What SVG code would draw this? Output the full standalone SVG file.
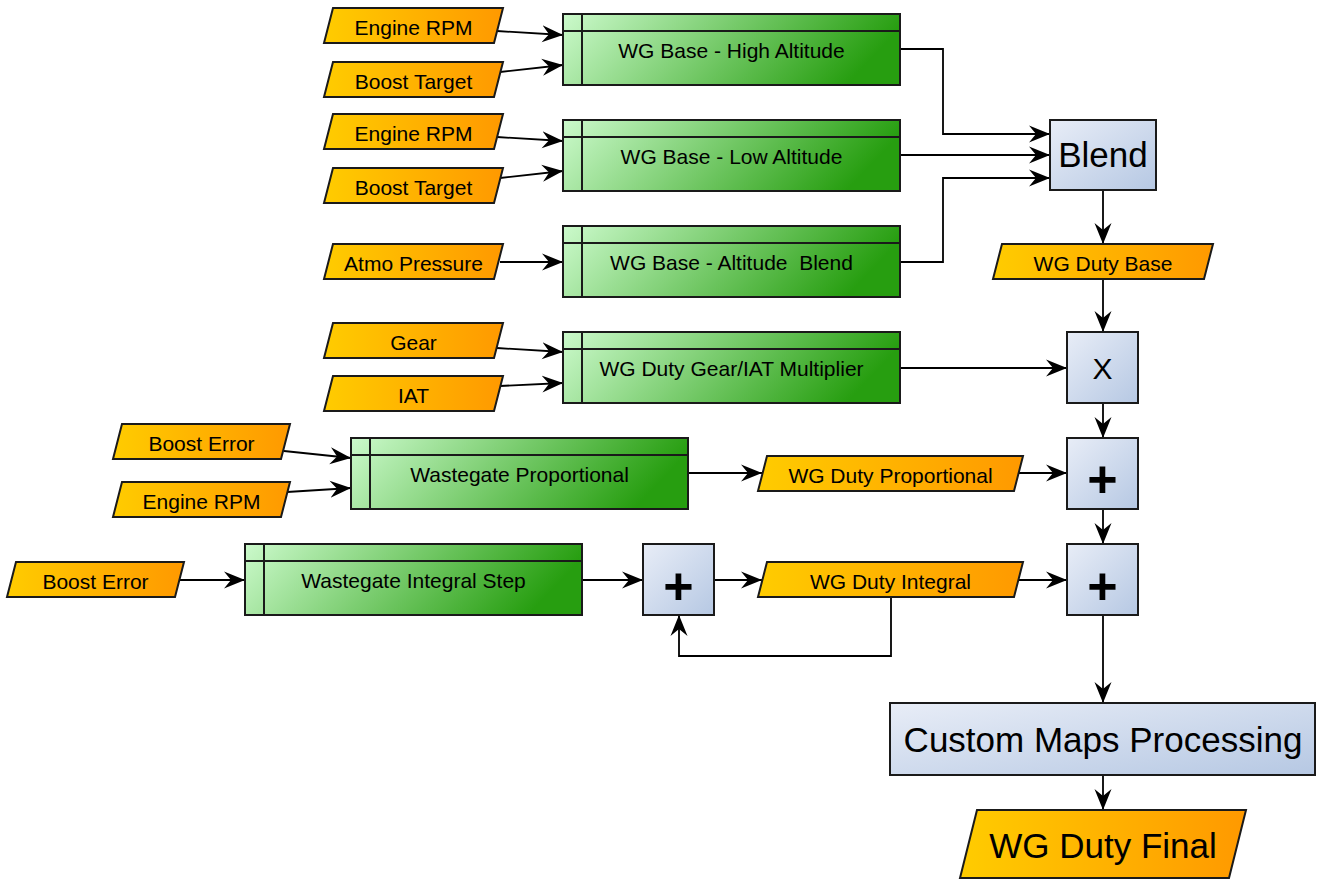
<svg xmlns="http://www.w3.org/2000/svg" width="1317" height="879" viewBox="0 0 1317 879">
  <defs>
    <linearGradient id="gOrange" x1="0" y1="0" x2="1" y2="0">
      <stop offset="0" stop-color="#FFCC00"/>
      <stop offset="1" stop-color="#FF9900"/>
    </linearGradient>
    <linearGradient id="gGreen" x1="0" y1="0" x2="1" y2="0.2">
      <stop offset="0" stop-color="#CCFACC"/>
      <stop offset="1" stop-color="#279E10"/>
    </linearGradient>
    <linearGradient id="gBlue" x1="0" y1="0" x2="1" y2="1">
      <stop offset="0" stop-color="#E8EDF7"/>
      <stop offset="1" stop-color="#B6C8E3"/>
    </linearGradient>
    <marker id="arrow" markerUnits="userSpaceOnUse" markerWidth="22" markerHeight="18" refX="21" refY="9" orient="auto" viewBox="0 0 22 18">
      <path d="M21,9 L0,0.5 L7,9 L0,17.5 Z" fill="#000"/>
    </marker>
    <style>
      .io { fill: url(#gOrange); stroke: #1a1a1a; stroke-width: 2; }
      .fn { fill: url(#gGreen); stroke: #1a1a1a; stroke-width: 2; }
      .sep { stroke: #1a1a1a; stroke-width: 2; fill: none; }
      .op { fill: url(#gBlue); stroke: #1a1a1a; stroke-width: 2; }
      .lbl { font-family: "Liberation Sans", Arial, sans-serif; font-size: 21px; fill: #000; text-anchor: middle; }
      .big { font-family: "Liberation Sans", Arial, sans-serif; font-size: 35px; fill: #000; text-anchor: middle; }
      .sym { font-family: "Liberation Sans", Arial, sans-serif; font-size: 52px; font-weight: bold; fill: #000; text-anchor: middle; }
      .edge { fill: none; stroke: #000; stroke-width: 1.8; marker-end: url(#arrow); }
    </style>
  </defs>
  <rect width="1317" height="879" fill="#fff"/>

  <!-- connectors -->
  <g id="connectors">
    <path class="edge" d="M497,31 L563,35"/>
    <path class="edge" d="M500,72 L563,65"/>
    <path class="edge" d="M497,137 L563,141"/>
    <path class="edge" d="M500,178 L563,171"/>
    <path class="edge" d="M500,262 L563,262"/>
    <path class="edge" d="M900,49 L943,49 L943,134 L1050,134"/>
    <path class="edge" d="M900,155 L1050,155"/>
    <path class="edge" d="M900,262 L943,262 L943,178 L1050,178"/>
    <path class="edge" d="M1103,190 L1103,244"/>
    <path class="edge" d="M1103,279 L1103,332"/>
    <path class="edge" d="M497,348 L563,352"/>
    <path class="edge" d="M500,386 L563,383"/>
    <path class="edge" d="M900,368 L1067,368"/>
    <path class="edge" d="M1103,403 L1103,438"/>
    <path class="edge" d="M284,451 L351,458"/>
    <path class="edge" d="M287,492 L351,488"/>
    <path class="edge" d="M688,473 L762,473"/>
    <path class="edge" d="M1018,473 L1067,473"/>
    <path class="edge" d="M1103,509 L1103,544"/>
    <path class="edge" d="M179,580 L245,580"/>
    <path class="edge" d="M582,580 L643,580"/>
    <path class="edge" d="M714,580 L762,580"/>
    <path class="edge" d="M1019,580 L1067,580"/>
    <path class="edge" d="M891,597 L891,656 L679,656 L679,615"/>
    <path class="edge" d="M1103,615 L1103,703"/>
    <path class="edge" d="M1103,775 L1103,810"/>
  </g>

  <!-- input / output values -->
  <g id="in-rpm-1"><polygon class="io" points="333,8 503,8 494,43 324,43"/><text class="lbl" x="413.5" y="35">Engine RPM</text></g>
  <g id="in-boost-target-1"><polygon class="io" points="333,62 503,62 494,97 324,97"/><text class="lbl" x="413.5" y="89">Boost Target</text></g>
  <g id="in-rpm-2"><polygon class="io" points="333,114 503,114 494,149 324,149"/><text class="lbl" x="413.5" y="141">Engine RPM</text></g>
  <g id="in-boost-target-2"><polygon class="io" points="333,168 503,168 494,203 324,203"/><text class="lbl" x="413.5" y="195">Boost Target</text></g>
  <g id="in-atmo"><polygon class="io" points="333,244 503,244 494,279 324,279"/><text class="lbl" x="413.5" y="271">Atmo Pressure</text></g>
  <g id="in-gear"><polygon class="io" points="333,323 503,323 494,358 324,358"/><text class="lbl" x="413.5" y="350">Gear</text></g>
  <g id="in-iat"><polygon class="io" points="333,376 503,376 494,411 324,411"/><text class="lbl" x="413.5" y="403">IAT</text></g>
  <g id="in-boost-error-1"><polygon class="io" points="122,424 290,424 281,459 113,459"/><text class="lbl" x="201.5" y="451">Boost Error</text></g>
  <g id="in-rpm-3"><polygon class="io" points="122,482 290,482 281,517 113,517"/><text class="lbl" x="201.5" y="509">Engine RPM</text></g>
  <g id="in-boost-error-2"><polygon class="io" points="16,562 184,562 175,597 7,597"/><text class="lbl" x="95.5" y="589">Boost Error</text></g>
  <g id="wg-duty-base"><polygon class="io" points="1002,244 1213,244 1204,279 993,279"/><text class="lbl" x="1103" y="271">WG Duty Base</text></g>
  <g id="wg-duty-prop"><polygon class="io" points="767,456 1023,456 1014,491 758,491"/><text class="lbl" x="890.5" y="483">WG Duty Proportional</text></g>
  <g id="wg-duty-int"><polygon class="io" points="767,562 1023,562 1014,597 758,597"/><text class="lbl" x="890.5" y="589">WG Duty Integral</text></g>
  <g id="wg-duty-final"><polygon class="io" points="977,810 1246,810 1229,878 960,878"/><text class="big" x="1103" y="858">WG Duty Final</text></g>

  <!-- lookup tables -->
  <g id="tbl-high-alt">
    <rect class="fn" x="563" y="14" width="337" height="71"/>
    <path class="sep" d="M563,31 H900 M582,14 V85"/>
    <text class="lbl" x="731.5" y="58">WG Base - High Altitude</text>
  </g>
  <g id="tbl-low-alt">
    <rect class="fn" x="563" y="120" width="337" height="71"/>
    <path class="sep" d="M563,137 H900 M582,120 V191"/>
    <text class="lbl" x="731.5" y="164">WG Base - Low Altitude</text>
  </g>
  <g id="tbl-alt-blend">
    <rect class="fn" x="563" y="226" width="337" height="71"/>
    <path class="sep" d="M563,243 H900 M582,226 V297"/>
    <text class="lbl" x="731.5" y="270" xml:space="preserve">WG Base - Altitude  Blend</text>
  </g>
  <g id="tbl-gear-iat">
    <rect class="fn" x="563" y="332" width="337" height="71"/>
    <path class="sep" d="M563,349 H900 M582,332 V403"/>
    <text class="lbl" x="731.5" y="376">WG Duty Gear/IAT Multiplier</text>
  </g>
  <g id="tbl-proportional">
    <rect class="fn" x="351" y="438" width="337" height="71"/>
    <path class="sep" d="M351,455 H688 M370,438 V509"/>
    <text class="lbl" x="519.5" y="482">Wastegate Proportional</text>
  </g>
  <g id="tbl-integral">
    <rect class="fn" x="245" y="544" width="337" height="71"/>
    <path class="sep" d="M245,561 H582 M264,544 V615"/>
    <text class="lbl" x="413.5" y="588">Wastegate Integral Step</text>
  </g>

  <!-- operators -->
  <g id="op-blend">
    <rect class="op" x="1050" y="120" width="106" height="70"/>
    <text class="big" x="1103" y="167">Blend</text>
  </g>
  <g id="op-mul">
    <rect class="op" x="1067" y="332" width="71" height="71"/>
    <text class="lbl" x="1102.5" y="379" style="font-size:30px">X</text>
  </g>
  <g id="op-add-1">
    <rect class="op" x="1067" y="438" width="71" height="71"/>
    <text class="sym" x="1102.5" y="497">+</text>
  </g>
  <g id="op-add-2">
    <rect class="op" x="1067" y="544" width="71" height="71"/>
    <text class="sym" x="1102.5" y="604">+</text>
  </g>
  <g id="op-add-int">
    <rect class="op" x="643" y="544" width="71" height="71"/>
    <text class="sym" x="678.5" y="604">+</text>
  </g>
  <g id="custom-maps">
    <rect class="op" x="890" y="703" width="425" height="72"/>
    <text class="big" x="1103" y="752">Custom Maps Processing</text>
  </g>
</svg>
